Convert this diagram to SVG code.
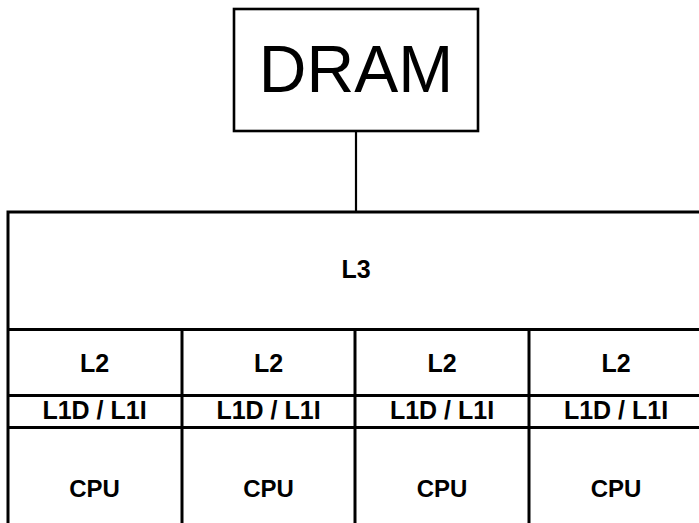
<svg xmlns="http://www.w3.org/2000/svg" width="699" height="523" viewBox="0 0 699 523">
  <style>
    .box { fill: #ffffff; stroke: #000000; stroke-width: 2.6; }
    .rule { stroke: #000000; stroke-width: 3; fill: none; }
    .link { stroke: #000000; stroke-width: 2.2; fill: none; }
    .big { font-family: "Liberation Sans", Arial, sans-serif; font-size: 66px; text-anchor: middle; fill: #000000; }
    .lbl { font-family: "Liberation Sans", Arial, sans-serif; font-size: 25px; font-weight: bold; text-anchor: middle; fill: #000000; }
    .cpu { font-size: 24px; }
  </style>
  <rect width="699" height="523" fill="#ffffff"/>

  <!-- bus from memory down to the shared cache -->
  <g id="connectors">
    <line class="link" x1="356" y1="131" x2="356" y2="212"/>
  </g>

  <g id="dram">
    <rect class="box" x="234" y="9" width="244" height="122"/>
    <text class="big" x="356" y="92">DRAM</text>
  </g>

  <!-- cache hierarchy block: L3 spans all cores -->
  <g id="l3">
    <rect class="box" x="8" y="212" width="700" height="330" style="stroke-width:3"/>
    <text class="lbl" x="356" y="278">L3</text>
  </g>

  <g id="grid">
    <line class="rule" x1="8" y1="329.5" x2="705" y2="329.5"/>
    <line class="rule" x1="8" y1="395.5" x2="705" y2="395.5"/>
    <line class="rule" x1="8" y1="427.5" x2="705" y2="427.5"/>
    <line class="rule" x1="182" y1="329.5" x2="182" y2="530"/>
    <line class="rule" x1="355" y1="329.5" x2="355" y2="530"/>
    <line class="rule" x1="529" y1="329.5" x2="529" y2="530"/>
  </g>

  <g id="core1">
    <text class="lbl" x="94.5" y="371.5">L2</text>
    <text class="lbl" x="94.5" y="418.5">L1D / L1I</text>
    <text class="lbl cpu" x="94.5" y="496.5">CPU</text>
  </g>
  <g id="core2">
    <text class="lbl" x="268.5" y="371.5">L2</text>
    <text class="lbl" x="268.5" y="418.5">L1D / L1I</text>
    <text class="lbl cpu" x="268.5" y="496.5">CPU</text>
  </g>
  <g id="core3">
    <text class="lbl" x="442" y="371.5">L2</text>
    <text class="lbl" x="442" y="418.5">L1D / L1I</text>
    <text class="lbl cpu" x="442" y="496.5">CPU</text>
  </g>
  <g id="core4">
    <text class="lbl" x="616" y="371.5">L2</text>
    <text class="lbl" x="616" y="418.5">L1D / L1I</text>
    <text class="lbl cpu" x="616" y="496.5">CPU</text>
  </g>
</svg>
